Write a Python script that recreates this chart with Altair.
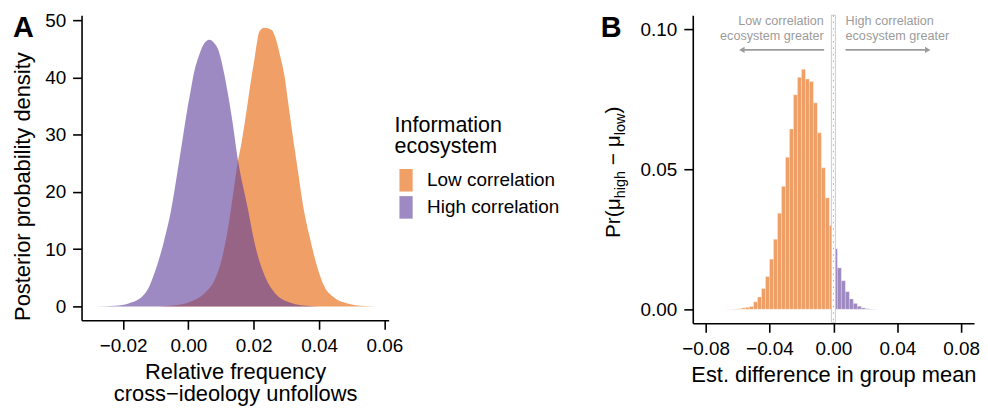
import altair as alt
import pandas as pd

GROUPS = ["Low correlation", "High correlation"]
COLORS = ["#E66101", "#5E3C99"]

# ---- Panel A: posterior densities ----
low_x = [-0.0090, -0.0040, 0.0010, 0.0051, 0.0081, 0.0102, 0.0122, 0.0137, 0.0152, 0.0162,
         0.0178, 0.0193, 0.0203, 0.0209, 0.0217, 0.0232, 0.0255, 0.0265, 0.0280, 0.0295,
         0.0305, 0.0320, 0.0335, 0.0350, 0.0371, 0.0391, 0.0416, 0.0447, 0.0487, 0.0538, 0.0570]
low_y = [0, 0.2, 0.9, 2.4, 4.7, 8.2, 13.9, 19.7, 25.5, 28.4,
         34.2, 40.0, 43.5, 45.8, 48.0, 48.7, 48.3, 47.2, 44.0, 40.0,
         35.8, 29.6, 23.8, 18.0, 12.2, 7.6, 3.5, 1.5, 0.5, 0.06, 0]
high_x = [-0.0284, -0.0223, -0.0183, -0.0140, -0.0122, -0.0107, -0.0076, -0.0053, -0.0036, -0.0020,
          -0.0004, 0.0007, 0.0017, 0.0032, 0.0047, 0.0064, 0.0082, 0.0093, 0.0108, 0.0123,
          0.0133, 0.0152, 0.0183, 0.0203, 0.0234, 0.0264, 0.0315, 0.0365, 0.0400]
high_y = [0, 0.1, 0.5, 1.8, 3.2, 5.3, 11.1, 16.8, 22.6, 28.4,
          34.2, 37.7, 40.8, 43.75, 45.8, 46.6, 45.8, 44.6, 41.1, 36.5,
          33.0, 25.5, 16.8, 11.0, 5.3, 2.4, 0.6, 0.1, 0]

# ---- Panel B: histogram of the estimated difference ----
BIN_W = 0.0025
low_bin_start = [-0.0725, -0.07, -0.0675, -0.065, -0.0625, -0.06, -0.0575, -0.055, -0.0525, -0.05,
                 -0.0475, -0.045, -0.0425, -0.04, -0.0375, -0.035, -0.0325, -0.03, -0.0275, -0.025,
                 -0.0225, -0.02, -0.0175, -0.015, -0.0125, -0.01, -0.0075, -0.005, -0.0025]
low_prob = [0.00002, 0.00003, 0.00004, 0.00005, 0.0001, 0.0002, 0.0005, 0.0007, 0.0010, 0.0027,
            0.0044, 0.0074, 0.0117, 0.0179, 0.0250, 0.0343, 0.0439, 0.0543, 0.0644, 0.0766,
            0.0828, 0.0857, 0.0822, 0.0813, 0.0737, 0.0630, 0.0505, 0.0398, 0.0299]
high_bin_start = [0.0, 0.0025, 0.005, 0.0075, 0.01, 0.0125, 0.015, 0.0175, 0.02, 0.0225, 0.025]
high_prob = [0.0216, 0.0148, 0.0102, 0.0063, 0.0037, 0.0021, 0.0011, 0.0005, 0.0002, 0.0001, 0.00005]

# annotations in panel B
ann_left = ["Low correlation", "ecosystem greater"]
ann_right = ["High correlation", "ecosystem greater"]
ann_left_x = -0.006
ann_right_x = 0.0076
ann_y = [0.1014, 0.0960]
arrow_y = 0.0926
arrow_from = [-0.0058, 0.0076]
arrow_to = [-0.0573, 0.0590]
arrow_shape = ["triangle-left", "triangle-right"]
zero_band = [-0.00125, 0.00125]

# B y-axis title pieces (Pr(mu_high - mu_low))
ytitle_pieces = ["Pr(\u03bc", "high", "\u2212 \u03bc", "low", ")"]
ytitle_sizes = [21, 14.5, 21, 14.5, 21]
ytitle_pos = [224.3, 184.2, 151.0, 120.8, 99.0]
ytitle_base = [-73.7, -67.9, -73.7, -67.9, -73.7]

FONT = "Liberation Sans"

# ---------------- Panel A ----------------
df_low = pd.DataFrame({"x": low_x, "y": low_y, "group": GROUPS[0]})
df_high = pd.DataFrame({"x": high_x, "y": high_y, "group": GROUPS[1]})

color_scale = alt.Scale(domain=GROUPS, range=COLORS)
xA = alt.Scale(domain=[-0.0327, 0.0613], nice=False, zero=False)
yA = alt.Scale(domain=[-2.43, 50.9], nice=False, zero=False)

axA_x = alt.Axis(values=[-0.02, 0, 0.02, 0.04, 0.06], format=".2f",
                 title=["Relative frequency", "cross\u2212ideology unfollows"],
                 titleLineHeight=22, labelPadding=7, titlePadding=6.7)
axA_y = alt.Axis(values=[0, 10, 20, 30, 40, 50], format="d",
                 title="Posterior probability density", titleY=172, titlePadding=10,
                 labelPadding=7)

legend = alt.Legend(
    orient="none", legendX=315, legendY=100.3, padding=0,
    title=["Information", "ecosystem"], titleFontSize=21.6, titleFontWeight="normal",
    titleLineHeight=21.7, titlePadding=11, titleColor="black", titleFont=FONT,
    labelFontSize=19, labelColor="black", labelFont=FONT, labelOffset=9.7, labelLimit=400,
    symbolType="M-0.586,-1H0.586V1H-0.586Z", symbolSize=515, symbolStrokeWidth=0,
    symbolOpacity=0.6, rowPadding=4.3,
)

def area_layer(df):
    return alt.Chart(df).mark_area(opacity=0.6, interpolate="monotone").encode(
        x=alt.X("x:Q", scale=xA, axis=axA_x),
        y=alt.Y("y:Q", scale=yA, axis=axA_y, stack=False),
        color=alt.Color("group:N", scale=color_scale, legend=legend),
    )

letter_df = pd.DataFrame({"t": ["A"]})
letter_a = alt.Chart(letter_df).mark_text(
    fontSize=29, fontWeight="bold", align="left", baseline="alphabetic", color="black"
).encode(x=alt.value(-68.9), y=alt.value(22), text="t:N")

panel_a = alt.layer(area_layer(df_low), area_layer(df_high), letter_a).properties(
    width=309, height=307)

# ---------------- Panel B ----------------
df_b = pd.DataFrame({
    "start": low_bin_start + high_bin_start,
    "prob": low_prob + high_prob,
    "group": [GROUPS[0]] * len(low_bin_start) + [GROUPS[1]] * len(high_bin_start),
})
df_b["end"] = df_b["start"] + BIN_W
df_b["base"] = 0.0

xB = alt.Scale(domain=[-0.088, 0.088], nice=False, zero=False)
yB = alt.Scale(domain=[-0.005, 0.105], nice=False, zero=False)
axB_x = alt.Axis(values=[-0.08, -0.04, 0, 0.04, 0.08], format=".2f",
                 title="Est. difference in group mean", labelPadding=7, titlePadding=6.7)
axB_y = alt.Axis(values=[0, 0.05, 0.10], format=".2f", title=None, labelPadding=7)

bars = alt.Chart(df_b).mark_rect(opacity=0.6, stroke="white", strokeWidth=0.4,
                                 strokeOpacity=0.8).encode(
    x=alt.X("start:Q", scale=xB, axis=axB_x),
    x2="end:Q",
    y=alt.Y("prob:Q", scale=yB, axis=axB_y),
    y2="base:Q",
    color=alt.Color("group:N", scale=color_scale, legend=None),
)

band_df = pd.DataFrame({"x1": [zero_band[0]], "x2": [zero_band[1]], "x0": [0.0]})
band = alt.Chart(band_df).mark_rect(fill="white", stroke="#c6c6c6", strokeWidth=0.9).encode(
    x=alt.X("x1:Q", scale=xB), x2="x2:Q", y=alt.value(0), y2=alt.value(309))
zero_line = alt.Chart(band_df).mark_rule(color="#a8a8a8", strokeDash=[1.5, 5],
                                         strokeWidth=1).encode(
    x=alt.X("x0:Q", scale=xB))

df_al = pd.DataFrame({"x": [ann_left_x] * 2, "y": ann_y, "t": ann_left})
df_ar = pd.DataFrame({"x": [ann_right_x] * 2, "y": ann_y, "t": ann_right})
txt_l = alt.Chart(df_al).mark_text(align="right", baseline="alphabetic", fontSize=12.7,
                                   color="#9b9b9b").encode(
    x=alt.X("x:Q", scale=xB), y=alt.Y("y:Q", scale=yB), text="t:N")
txt_r = alt.Chart(df_ar).mark_text(align="left", baseline="alphabetic", fontSize=12.7,
                                   color="#9b9b9b").encode(
    x=alt.X("x:Q", scale=xB), y=alt.Y("y:Q", scale=yB), text="t:N")

df_arr = pd.DataFrame({"x": arrow_from, "x2": arrow_to, "y": [arrow_y] * 2,
                       "shape": arrow_shape})
arr_line = alt.Chart(df_arr).mark_rule(color="#9b9b9b", strokeWidth=1.8).encode(
    x=alt.X("x:Q", scale=xB), x2="x2:Q", y=alt.Y("y:Q", scale=yB))
arr_head = alt.Chart(df_arr).mark_point(filled=True, color="#9b9b9b", opacity=1,
                                        size=40).encode(
    x=alt.X("x2:Q", scale=xB), y=alt.Y("y:Q", scale=yB),
    shape=alt.Shape("shape:N", scale=alt.Scale(domain=arrow_shape, range=arrow_shape),
                    legend=None))

df_yt = pd.DataFrame({"t": ytitle_pieces, "s": ytitle_sizes, "p": ytitle_pos,
                      "b": ytitle_base})
ytitle_layers = []
for i in range(len(ytitle_pieces)):
    ytitle_layers.append(
        alt.Chart(df_yt.iloc[[i]]).mark_text(
            angle=270, align="left", baseline="alphabetic",
            fontSize=ytitle_sizes[i], color="black"
        ).encode(x=alt.value(ytitle_base[i]), y=alt.value(ytitle_pos[i]), text="t:N")
    )

letter_b = alt.Chart(pd.DataFrame({"t": ["B"]})).mark_text(
    fontSize=29, fontWeight="bold", align="left", baseline="alphabetic", color="black"
).encode(x=alt.value(-92.5), y=alt.value(22), text="t:N")

panel_b = alt.layer(bars, band, zero_line, txt_l, txt_r, arr_line, arr_head,
                    letter_b, *ytitle_layers).properties(width=283, height=310)

chart = alt.hconcat(panel_a, panel_b, spacing=306, bounds="flush").resolve_scale(
    color="independent", shape="independent").resolve_legend(
    color="independent", shape="independent").properties(
    padding={"left": 3, "top": 2, "right": 0, "bottom": 0}
).configure(font=FONT).configure_view(strokeWidth=0).configure_axis(
    domainColor="black", domainWidth=1.6, tickColor="black", tickWidth=1.6, tickSize=9,
    labelFontSize=19, labelColor="black", titleFontSize=22, titleColor="black",
    titleFontWeight="normal", grid=False, labelFont=FONT, titleFont=FONT,
)

chart.save("out.html", embed_options={"renderer": "svg", "actions": False})
